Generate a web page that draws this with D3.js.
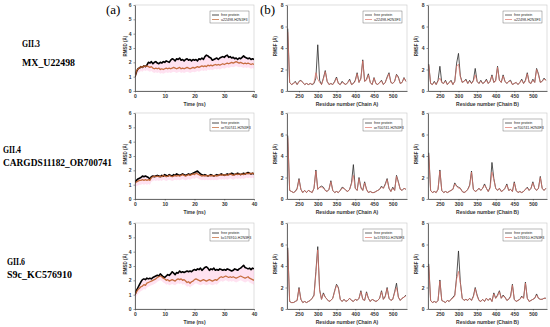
<html>
<head>
<script src="https://d3js.org/d3.v7.min.js"></script>
<style>
body{margin:0;background:#fff;}
text{font-family:"Liberation Sans",Arial,sans-serif;}
.lab{font-family:"Liberation Serif","Times New Roman",serif;font-weight:bold;font-size:10.5px;}
</style>
</head>
<body>
<script>

// sampling grids
var time = d3.range(0, 40.5, 0.5);       // ns
var resid = d3.range(220, 540, 5);       // residue number

var timeTicks = [0, 10, 20, 30, 40];
var rmsdTicks = [0, 1, 2, 3, 4, 5, 6];
var residTicks = [250, 300, 350, 400, 450, 500];
var rmsfTicks = [0, 2, 4, 6, 8];

var strains = ["GII.3", "GII.4", "GII.6"];
var isolates = ["MX_U22498", "CARGDS11182_OR700741", "S9c_KC576910"];
var complexNames = ["u22498-H2N3F3", "or700741-H2N3F3", "kc576910-H2N3F3"];

// RMSD (A), every 0.5 ns
var rmsdFree1 = [1.0,1.35,1.55,1.6,1.7,1.65,1.75,1.7,1.8,2.0,
  1.95,2.05,1.9,2.0,2.05,1.95,1.9,2.0,1.95,2.05,
  2.0,2.1,2.05,2.0,2.15,2.25,2.2,2.1,2.25,2.2,
  2.3,2.15,2.2,2.1,2.2,2.25,2.15,2.2,2.1,2.2,
  2.15,2.2,2.1,2.25,2.2,2.3,2.2,2.4,2.5,2.45,
  2.35,2.3,2.15,2.2,2.25,2.3,2.2,2.3,2.35,2.4,
  2.35,2.45,2.5,2.35,2.4,2.3,2.35,2.25,2.3,2.2,
  2.3,2.25,2.35,2.45,2.35,2.3,2.25,2.3,2.2,2.25,
  2.2];
var rmsdCplx1 = [1.0,1.4,1.55,1.6,1.7,1.65,1.75,1.7,1.75,1.7,
  1.65,1.7,1.6,1.55,1.6,1.55,1.6,1.5,1.55,1.5,
  1.55,1.6,1.55,1.6,1.55,1.6,1.65,1.6,1.55,1.6,
  1.65,1.55,1.6,1.55,1.6,1.65,1.6,1.55,1.6,1.65,
  1.6,1.65,1.7,1.65,1.7,1.75,1.7,1.75,1.7,1.8,
  1.75,1.8,1.75,1.8,1.85,1.8,1.85,1.8,1.85,1.9,
  1.85,1.9,1.95,1.9,1.95,2.0,1.95,2.0,2.05,2.0,
  1.95,2.0,1.95,1.9,1.95,1.9,1.95,1.9,1.85,1.9,
  1.85];
var rmsdFree2 = [1.2,1.3,1.4,1.45,1.5,1.6,1.55,1.6,1.55,1.5,
  1.4,1.55,1.6,1.55,1.6,1.65,1.6,1.55,1.65,1.6,
  1.7,1.65,1.6,1.7,1.65,1.6,1.7,1.65,1.75,1.7,
  1.65,1.7,1.75,1.7,1.65,1.7,1.75,1.7,1.75,1.8,
  1.85,1.9,1.95,1.85,1.75,1.7,1.65,1.7,1.65,1.6,
  1.65,1.7,1.65,1.6,1.65,1.7,1.65,1.7,1.75,1.7,
  1.65,1.7,1.75,1.7,1.75,1.8,1.75,1.7,1.75,1.8,
  1.75,1.7,1.75,1.8,1.75,1.8,1.85,1.8,1.75,1.8,
  1.75];
var rmsdCplx2 = [1.1,1.2,1.25,1.3,1.3,1.35,1.3,1.35,1.3,1.35,
  1.3,1.5,1.55,1.6,1.55,1.6,1.55,1.6,1.55,1.65,
  1.6,1.55,1.6,1.65,1.6,1.55,1.6,1.65,1.6,1.65,
  1.6,1.65,1.7,1.65,1.6,1.65,1.7,1.65,1.7,1.75,
  1.7,1.8,1.75,1.7,1.65,1.6,1.65,1.6,1.65,1.6,
  1.65,1.6,1.65,1.6,1.65,1.6,1.65,1.7,1.65,1.7,
  1.65,1.7,1.65,1.7,1.75,1.7,1.65,1.7,1.75,1.7,
  1.75,1.7,1.75,1.7,1.75,1.8,1.75,1.8,1.75,1.8,
  1.75];
var rmsdFree3 = [1.0,1.3,1.5,1.7,1.9,2.05,2.1,2.05,2.15,2.1,
  2.15,2.1,2.2,2.25,2.3,2.35,2.3,2.45,2.35,2.25,
  2.2,2.3,2.4,2.35,2.45,2.6,2.5,2.4,2.55,2.5,
  2.65,2.55,2.6,2.55,2.6,2.65,2.6,2.65,2.6,2.7,
  2.75,2.7,2.8,2.75,2.85,2.7,2.8,2.9,2.95,2.85,
  2.7,2.8,2.75,2.85,2.7,2.75,2.7,2.8,2.75,2.7,
  2.75,2.7,2.8,2.75,2.7,2.65,2.7,2.8,2.75,2.7,
  2.8,2.85,2.95,3.05,2.9,2.85,2.8,2.85,2.75,2.85,
  2.8];
var rmsdCplx3 = [1.0,1.2,1.35,1.45,1.55,1.6,1.7,1.65,1.8,1.85,
  1.9,1.95,2.0,2.05,2.1,2.2,2.25,2.3,2.25,2.15,
  2.1,2.0,2.05,1.95,2.0,2.05,2.0,1.95,2.05,2.1,
  2.05,2.1,2.0,2.05,1.95,1.85,1.9,1.8,1.9,1.95,
  2.05,2.1,2.05,2.0,1.95,2.0,2.05,2.0,1.95,2.0,
  2.05,2.0,1.95,2.0,2.05,2.0,2.1,2.2,2.25,2.2,
  2.25,2.3,2.25,2.2,2.25,2.2,2.25,2.2,2.15,2.2,
  2.25,2.3,2.25,2.2,2.15,2.2,2.25,2.15,2.1,2.05,
  2.0];

// RMSF (A), every 5 residues from 220 to 535
var rmsfFreeA1 = [5.8,0.8,0.6,0.7,0.9,0.6,0.9,1.0,0.8,0.6,
  0.7,0.6,0.7,0.6,0.7,1.2,4.3,1.0,0.6,1.2,
  1.9,0.9,0.6,0.7,0.6,0.9,1.3,0.7,0.6,0.9,
  0.7,0.6,0.8,1.1,0.6,0.7,1.0,1.7,0.8,1.2,
  2.9,0.9,1.1,1.6,0.8,0.6,1.25,0.7,0.6,0.8,
  1.0,0.6,0.8,1.3,1.7,0.8,0.7,0.9,1.55,1.3,
  0.7,0.8,1.25,0.9];
var rmsfCplxA1 = [5.5,0.8,0.6,0.7,0.8,0.6,0.85,0.95,0.8,0.6,
  0.7,0.6,0.7,0.6,0.8,1.7,1.1,0.8,0.6,1.1,
  1.8,0.9,0.6,0.7,0.6,0.8,1.2,0.7,0.6,0.8,
  0.7,0.6,0.8,1.0,0.6,0.7,0.9,1.6,0.8,1.1,
  2.8,0.9,1.0,1.5,0.8,0.6,1.2,0.7,0.6,0.8,
  0.9,0.6,0.8,1.2,1.6,0.8,0.7,0.9,1.5,1.2,
  0.7,0.8,1.2,0.9];
var rmsfFreeB1 = [2.5,0.7,0.6,0.9,0.6,1.0,2.3,0.8,0.7,1.0,
  0.6,0.8,1.0,0.6,0.9,2.6,3.5,1.4,0.8,0.9,
  1.1,0.7,1.0,0.7,1.0,2.1,0.9,0.7,1.0,0.7,
  0.8,1.1,0.7,0.9,1.5,0.8,1.0,2.3,1.0,0.8,
  1.5,0.9,0.7,0.9,1.0,0.6,0.7,0.8,0.6,0.8,
  1.1,0.7,1.0,1.7,0.8,0.7,1.1,0.8,2.1,1.6,
  0.8,0.9,1.2,1.0];
var rmsfCplxB1 = [2.4,0.7,0.6,0.8,0.6,0.9,1.2,0.8,0.7,0.9,
  0.6,0.8,0.9,0.6,0.9,2.3,2.5,1.3,0.8,0.9,
  1.0,0.7,0.9,0.7,0.9,1.5,0.9,0.7,0.9,0.7,
  0.8,1.0,0.7,0.9,1.4,0.8,0.9,2.2,1.0,0.8,
  1.4,0.9,0.7,0.9,0.9,0.6,0.7,0.8,0.6,0.8,
  1.0,0.7,0.9,1.6,0.8,0.7,1.0,0.8,2.0,1.5,
  0.8,0.9,1.1,1.0];
var rmsfFreeA2 = [5.9,0.8,0.7,0.6,0.7,1.0,1.9,0.9,0.6,0.8,
  0.6,0.8,0.7,0.6,1.0,2.7,0.9,1.1,1.2,1.1,
  0.8,0.7,0.9,1.7,0.8,0.6,0.7,0.6,0.8,1.1,
  1.0,0.8,0.7,0.9,1.5,3.2,1.0,0.8,2.0,1.1,
  0.8,1.6,0.9,0.6,0.7,0.6,0.6,0.7,0.8,0.9,
  1.2,1.0,1.4,1.9,1.0,0.7,1.1,0.8,2.2,1.6,
  0.9,0.8,1.0,0.9];
var rmsfCplxA2 = [5.7,0.8,0.7,0.6,0.7,0.9,1.8,0.9,0.6,0.8,
  0.6,0.8,0.7,0.6,1.0,2.6,0.9,1.1,1.1,1.0,
  0.8,0.7,0.9,1.6,0.8,0.6,0.7,0.6,0.8,1.0,
  1.0,0.8,0.7,0.9,1.4,2.2,1.0,0.8,1.9,1.0,
  0.8,1.5,0.9,0.6,0.7,0.6,0.6,0.7,0.8,0.9,
  1.1,1.0,1.3,1.8,1.0,0.7,1.0,0.8,2.1,1.5,
  0.9,0.8,1.0,0.9];
var rmsfFreeB2 = [4.3,0.8,0.6,0.7,0.6,0.9,2.7,0.8,0.6,0.7,
  0.6,0.7,0.8,0.9,1.5,1.2,1.1,1.0,0.7,0.6,
  0.7,0.9,1.3,2.6,0.9,0.7,0.8,1.0,0.8,1.0,
  1.4,1.0,0.7,1.1,3.4,1.9,1.0,0.8,1.0,0.7,
  0.8,1.0,1.4,0.8,0.9,0.7,1.6,0.8,0.6,0.7,
  0.6,0.7,0.9,1.1,0.8,1.0,1.6,1.0,0.8,1.0,
  2.1,1.0,0.8,1.0];
var rmsfCplxB2 = [4.1,0.8,0.6,0.7,0.6,0.9,2.6,0.8,0.6,0.7,
  0.6,0.7,0.8,0.9,1.4,1.2,1.0,1.0,0.7,0.6,
  0.7,0.9,1.2,2.5,0.9,0.7,0.8,1.0,0.8,1.0,
  1.3,1.0,0.7,1.0,2.5,1.8,1.0,0.8,1.0,0.7,
  0.8,1.0,1.3,0.8,0.9,0.7,1.5,0.8,0.6,0.7,
  0.6,0.7,0.9,1.0,0.8,1.0,1.5,1.0,0.8,1.0,
  2.0,1.0,0.8,1.0];
var rmsfFreeA3 = [5.7,0.7,0.6,0.6,0.7,0.8,2.0,0.9,0.6,0.7,
  0.6,0.7,0.8,1.0,1.3,3.5,5.8,1.8,0.9,1.5,
  1.1,0.9,0.7,0.8,1.0,1.7,2.3,2.0,0.9,0.7,
  0.9,0.7,0.8,1.0,0.8,0.7,0.9,0.8,1.0,1.7,
  0.9,0.8,1.6,1.0,0.7,0.9,0.8,0.7,0.8,1.0,
  1.7,0.9,1.2,2.0,1.0,0.8,0.9,1.6,2.4,1.1,
  0.8,1.0,1.1,1.3];
var rmsfCplxA3 = [5.5,0.7,0.6,0.6,0.7,0.8,1.9,0.9,0.6,0.7,
  0.6,0.7,0.8,1.0,1.2,3.3,5.5,1.7,0.9,1.4,
  1.1,0.9,0.7,0.8,1.0,1.6,2.2,1.9,0.9,0.7,
  0.9,0.7,0.8,1.0,0.8,0.7,0.9,0.8,1.0,1.6,
  0.9,0.8,1.5,1.0,0.7,0.9,0.8,0.7,0.8,1.0,
  1.6,0.9,1.1,1.9,1.0,0.8,0.9,1.5,2.0,1.1,
  0.8,1.0,1.1,1.2];
var rmsfFreeB3 = [4.2,0.8,0.6,0.7,0.6,0.8,2.7,0.8,0.7,0.6,
  0.8,0.7,0.9,1.1,1.3,3.0,5.4,2.5,1.0,0.8,
  0.9,0.8,1.0,0.8,1.2,2.0,1.3,0.8,0.7,0.9,
  0.7,1.0,0.8,1.0,0.7,1.5,1.0,1.3,1.7,1.0,
  1.3,1.1,0.8,0.9,1.2,2.3,0.9,0.7,0.8,0.9,
  1.2,1.0,2.5,1.0,0.7,0.8,0.9,1.0,1.4,1.0,
  0.9,0.9,1.0,1.0];
var rmsfCplxB3 = [4.0,0.8,0.6,0.7,0.6,0.8,2.6,0.8,0.7,0.6,
  0.8,0.7,0.9,1.0,1.2,2.8,3.5,2.4,1.0,0.8,
  0.9,0.8,1.0,0.8,1.1,1.9,1.2,0.8,0.7,0.9,
  0.7,1.0,0.8,1.0,0.7,1.4,1.0,1.2,1.6,1.0,
  1.2,1.1,0.8,0.9,1.1,2.2,0.9,0.7,0.8,0.9,
  1.1,1.0,2.4,1.0,0.7,0.8,0.9,1.0,1.3,1.0,
  0.9,0.9,1.0,1.0];

var rows = [
  {rmsd: [rmsdFree1, rmsdCplx1], a: [rmsfFreeA1, rmsfCplxA1], b: [rmsfFreeB1, rmsfCplxB1]},
  {rmsd: [rmsdFree2, rmsdCplx2], a: [rmsfFreeA2, rmsfCplxA2], b: [rmsfFreeB2, rmsfCplxB2]},
  {rmsd: [rmsdFree3, rmsdCplx3], a: [rmsfFreeA3, rmsfCplxA3], b: [rmsfFreeB3, rmsfCplxB3]}
];

var width = 550, height = 327;
var rowTop = [5, 113, 223];
var ph = 86;
var labY = [[47, 66], [153, 166], [265, 278]];
var labX = [22, 3, 7];
var labW = [[18, 53], [18, 109], [18, 65]];

var svg = d3.select("body").append("svg")
    .attr("width", width)
    .attr("height", height);

svg.append("text").attr("class", "lab").style("font-weight", "normal").style("font-size", "13px")
    .attr("x", 106).attr("y", 14).text("(a)");
svg.append("text").attr("class", "lab").style("font-weight", "normal").style("font-size", "13px")
    .attr("x", 260).attr("y", 14).text("(b)");

function panel(x0, x1, y0, xdom, xticks, ydom, yticks, xtitle, ytitle, ytx, xs, free, cplx, cname, kind) {
  var x = d3.scaleLinear().domain(xdom).range([x0, x1]);
  var y = d3.scaleLinear().domain(ydom).range([y0 + ph, y0]);
  var g = svg.append("g");

  var clipId = "c" + Math.round(x0) + "_" + y0;
  g.append("clipPath").attr("id", clipId).append("rect")
    .attr("x", x0).attr("y", y0).attr("width", x1 - x0).attr("height", ph);

  g.append("rect").attr("x", x0).attr("y", y0).attr("width", x1 - x0).attr("height", ph)
    .attr("fill", "none").attr("stroke", "#c8c8c8").attr("stroke-width", 0.6);

  var pts = xs.map(function(v, i) { return {x: v, f: free[i], c: cplx[i]}; });
  var lg = g.append("g").attr("clip-path", "url(#" + clipId + ")");

  if (kind == "rmsd") {
    lg.append("path").datum(pts)
      .attr("fill", "#ff9fcf").attr("opacity", 0.3)
      .attr("d", d3.area().x(function(d) { return x(d.x); })
        .y0(function(d) { return y(d.c - 0.3); })
        .y1(function(d) { return y(Math.max(d.c, d.f) + 0.05); }));
  }

  lg.append("path").datum(pts)
    .attr("fill", "none")
    .attr("stroke", kind == "rmsd" ? "#000" : "#2a2a2a")
    .attr("stroke-width", kind == "rmsd" ? 1.6 : 0.8)
    .attr("stroke-linejoin", "round")
    .attr("d", d3.line().x(function(d) { return x(d.x); }).y(function(d) { return y(d.f); }));

  lg.append("path").datum(pts)
    .attr("fill", "none")
    .attr("stroke", kind == "rmsd" ? "#c0602c" : "#e07468")
    .attr("stroke-width", kind == "rmsd" ? 1.3 : 0.8)
    .attr("opacity", 0.9)
    .attr("stroke-linejoin", "round")
    .attr("d", d3.line().x(function(d) { return x(d.x); }).y(function(d) { return y(d.c); }));

  var xa = g.append("g")
    .attr("transform", "translate(0," + (y0 + ph) + ")")
    .call(d3.axisBottom(x).tickValues(xticks).tickSize(1.5).tickSizeOuter(0).tickPadding(2).tickFormat(d3.format("d")));
  var ya = g.append("g")
    .attr("transform", "translate(" + x0 + ",0)")
    .call(d3.axisLeft(y).tickValues(yticks).tickSize(1.5).tickSizeOuter(0).tickPadding(2).tickFormat(d3.format("d")));
  [xa, ya].forEach(function(a) {
    a.select(".domain").attr("stroke", "#333").attr("stroke-width", 0.7);
    a.selectAll(".tick line").attr("stroke", "#333").attr("stroke-width", 0.5);
    a.selectAll("text").attr("font-size", 5).attr("font-weight", "bold").attr("fill", "#333")
      .attr("font-family", "Liberation Sans, Arial, sans-serif");
  });

  g.append("text").attr("x", (x0 + x1) / 2).attr("y", y0 + ph + 15)
    .attr("text-anchor", "middle").attr("font-size", 5).attr("font-weight", "bold").attr("fill", "#333")
    .text(xtitle);
  g.append("text")
    .attr("transform", "translate(" + ytx + "," + (y0 + 41) + ") rotate(-90)")
    .attr("text-anchor", "middle").attr("font-size", 4.5).attr("font-weight", "bold").attr("fill", "#333")
    .text(ytitle);

  // legend
  var bx = x1 - 44, by = y0 + 6;
  var leg = g.append("g");
  leg.append("rect").attr("x", bx).attr("y", by).attr("width", 39).attr("height", 12)
    .attr("fill", "#fff").attr("stroke", "#555").attr("stroke-width", 0.4);
  [["free protein", kind == "rmsd" ? "#000" : "#2a2a2a"], [cname, kind == "rmsd" ? "#c0602c" : "#e07468"]]
    .forEach(function(e, i) {
      var ly = by + 4 + i * 4.5;
      leg.append("line").attr("x1", bx + 2).attr("x2", bx + 9).attr("y1", ly).attr("y2", ly)
        .attr("stroke", e[1]).attr("stroke-width", 0.7);
      leg.append("text").attr("x", bx + 11).attr("y", ly + 1.3)
        .attr("font-size", 3.6).attr("fill", "#222").text(e[0]);
    });
}

rows.forEach(function(r, i) {
  var t = rowTop[i];
  svg.append("text").attr("class", "lab").attr("x", labX[i]).attr("y", labY[i][0])
    .attr("textLength", labW[i][0]).attr("lengthAdjust", "spacingAndGlyphs").text(strains[i]);
  svg.append("text").attr("class", "lab").attr("x", labX[i]).attr("y", labY[i][1])
    .attr("textLength", labW[i][1]).attr("lengthAdjust", "spacingAndGlyphs").text(isolates[i]);

  panel(135, 254, t, [0, 40], timeTicks, [0, 6], rmsdTicks, "Time (ns)", "RMSD (Å)", 127,
    time, r.rmsd[0], r.rmsd[1], complexNames[i], "rmsd");
  panel(287, 407, t, [218, 538], residTicks, [0, 8], rmsfTicks, "Residue number (Chain A)", "RMSF (Å)", 277,
    resid, r.a[0], r.a[1], complexNames[i], "rmsf");
  panel(428, 547, t, [218, 538], residTicks, [0, 8], rmsfTicks, "Residue number (Chain B)", "RMSF (Å)", 418,
    resid, r.b[0], r.b[1], complexNames[i], "rmsf");
});

</script>
</body>
</html>
